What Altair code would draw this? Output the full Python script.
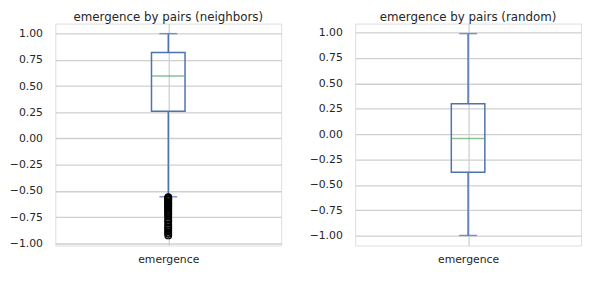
import altair as alt
import pandas as pd

# Panel titles and category
titles = ["emergence by pairs (neighbors)", "emergence by pairs (random)"]
category = "emergence"

# Box statistics: [neighbors, random]
whisker_low = [-0.556, -0.996]
q1 = [0.260, -0.374]
median = [0.595, -0.041]
q3 = [0.821, 0.300]
whisker_high = [1.000, 0.990]

# Outliers of the neighbors panel
outliers_neighbors = [-0.56, -0.565, -0.57, -0.58, -0.585, -0.59, -0.60, -0.61, -0.615,
                      -0.62, -0.63, -0.64, -0.645, -0.65, -0.66, -0.67, -0.68, -0.69,
                      -0.70, -0.71, -0.72, -0.73, -0.745, -0.76, -0.775, -0.79, -0.80,
                      -0.82, -0.835, -0.85, -0.86, -0.875, -0.885, -0.90, -0.91, -0.925]

# y domains (matplotlib auto limits)
y_domains = [[-1.021, 1.096], [-1.095, 1.089]]
tick_values = [-1.0, -0.75, -0.5, -0.25, 0.0, 0.25, 0.5, 0.75, 1.0]

BOX = "#4C72B0"
MED = "#55A868"
TXT = "#262626"
FONT = "DejaVu Sans"
GRID = "#cfcfcf"


def panel(i, outliers):
    stats = pd.DataFrame({
        "var": [category], "lo": [whisker_low[i]], "q1": [q1[i]], "med": [median[i]],
        "q3": [q3[i]], "hi": [whisker_high[i]],
    })
    yscale = alt.Scale(domain=y_domains[i], nice=False, zero=False)
    xenc = alt.X("var:N", scale=alt.Scale(type="point"),
                 axis=alt.Axis(title=None, labelAngle=0, ticks=False, domain=False,
                               grid=True, labelPadding=8, labelFontSize=11,
                               labelColor=TXT, labelFont=FONT, gridColor=GRID,
                               gridWidth=1.3))
    yaxis = alt.Axis(title=None, values=tick_values, format=".2f", ticks=False,
                     domain=False, labelPadding=13, labelFontSize=11, labelColor=TXT,
                     labelFont=FONT, minExtent=45, maxExtent=45, gridColor=GRID,
                     gridWidth=1.3, labelOverlap=False)

    def Y(field):
        return alt.Y(field, scale=yscale, axis=yaxis)

    base = alt.Chart(stats)
    lower = base.mark_rule(color=BOX, strokeWidth=1.5).encode(
        x=xenc, y=Y("lo:Q"), y2="q1:Q")
    upper = base.mark_rule(color=BOX, strokeWidth=1.5).encode(
        x=xenc, y=Y("q3:Q"), y2="hi:Q")
    box = base.mark_bar(size=34, fillOpacity=0, stroke=BOX, strokeWidth=1.5).encode(
        x=xenc, y=Y("q1:Q"), y2="q3:Q")
    med = base.mark_tick(color=MED, size=34, thickness=1.5).encode(
        x=xenc, y=Y("med:Q"))
    cap_lo = base.mark_tick(color=BOX, size=18, thickness=1.5).encode(
        x=xenc, y=Y("lo:Q"))
    cap_hi = base.mark_tick(color=BOX, size=18, thickness=1.5).encode(
        x=xenc, y=Y("hi:Q"))
    layers = [lower, upper, box, med, cap_lo, cap_hi]
    if outliers:
        odf = pd.DataFrame({"var": [category] * len(outliers), "v": outliers})
        pts = alt.Chart(odf).mark_point(shape="circle", filled=False, color="black",
                                        size=45, strokeWidth=1.2, opacity=1).encode(
            x=xenc, y=Y("v:Q"))
        layers.append(pts)
    return alt.layer(*layers).properties(
        width=229, height=225,
        title=alt.TitleParams(titles[i], fontSize=12, font=FONT, fontWeight="normal",
                              color=TXT, offset=0))


chart = alt.hconcat(panel(0, outliers_neighbors), panel(1, []), spacing=26).properties(
    padding=0
).configure_view(
    stroke=GRID, strokeWidth=1.5
).configure(background="white")

chart.save("out.html", embed_options={"renderer": "svg", "actions": False})
